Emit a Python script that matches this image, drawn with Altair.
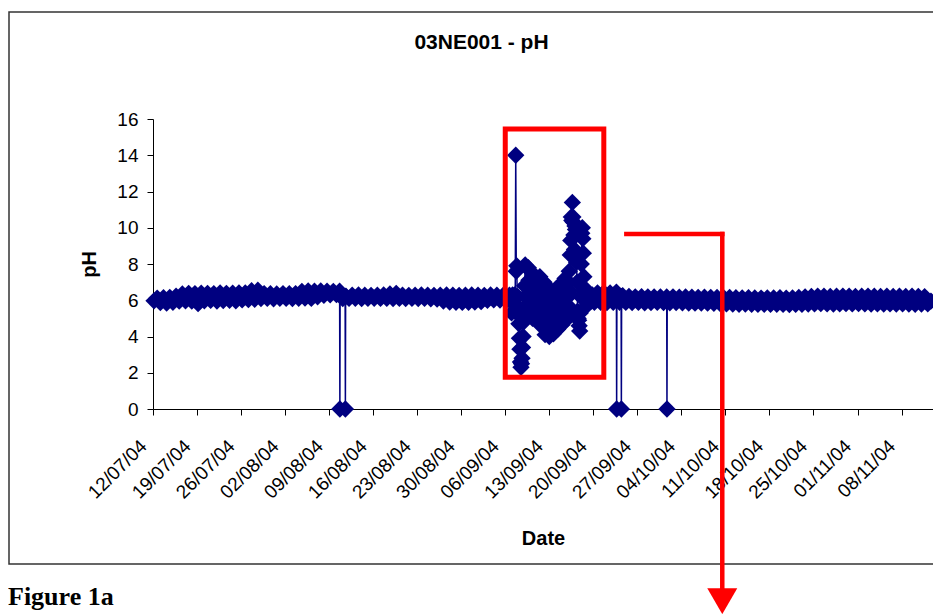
import altair as alt
import pandas as pd

# ------------------------------------------------------------------ data
start_date = "2004-07-12"

# two readings a day (04:00 and 16:00), 12/07/04 .. 06/09/04
pre_low = [5.97, 5.87, 5.85, 5.89, 5.95, 5.97, 5.95,
           5.81, 5.97, 5.99, 5.96, 5.98, 6.00, 5.97,
           6.02, 6.03, 6.05, 6.09, 6.10, 6.08, 6.11,
           6.10, 6.09, 6.11, 6.12, 6.10, 6.19, 6.27,
           6.30, 6.31, 6.09, 6.10, 6.11, 6.09, 6.10,
           6.11, 6.10, 6.10, 6.09, 6.10, 6.09, 6.10,
           6.09, 6.10, 6.08, 6.06, 5.96, 5.90, 5.89,
           5.88, 5.89, 5.90, 5.92, 5.99, 6.02, 6.01,
           6.00]
pre_high = [6.12, 6.14, 6.16, 6.22, 6.35, 6.38, 6.37,
            6.39, 6.38, 6.37, 6.40, 6.38, 6.39, 6.41,
            6.40, 6.53, 6.55, 6.37, 6.36, 6.35, 6.37,
            6.36, 6.37, 6.49, 6.51, 6.50, 6.51, 6.50,
            6.49, 6.50, 6.23, 6.28, 6.29, 6.28, 6.27,
            6.28, 6.29, 6.35, 6.38, 6.28, 6.27, 6.28,
            6.29, 6.28, 6.27, 6.28, 6.29, 6.28, 6.27,
            6.28, 6.29, 6.28, 6.27, 6.29, 6.28, 6.27,
            6.28]

# two readings a day, 20/09/04 .. 12/11/04
post_start = "2004-09-20"
post_low = [5.88, 5.89, 5.87, 5.88, 5.89, 5.88, 5.87,
            5.88, 5.86, 5.87, 5.88, 5.87, 5.86, 5.87,
            5.86, 5.85, 5.84, 5.85, 5.84, 5.83, 5.82,
            5.80, 5.79, 5.78, 5.79, 5.78, 5.77, 5.78,
            5.77, 5.78, 5.77, 5.76, 5.77, 5.78, 5.79,
            5.80, 5.81, 5.80, 5.79, 5.80, 5.81, 5.80,
            5.81, 5.80, 5.79, 5.80, 5.79, 5.80, 5.79,
            5.80, 5.79, 5.78, 5.79, 5.80]
post_high = [6.41, 6.42, 6.40, 6.45, 6.25, 6.21, 6.19,
             6.20, 6.19, 6.18, 6.19, 6.18, 6.19, 6.17,
             6.18, 6.17, 6.16, 6.17, 6.16, 6.15, 6.16,
             6.15, 6.14, 6.13, 6.14, 6.13, 6.12, 6.13,
             6.13, 6.14, 6.12, 6.13, 6.15, 6.19, 6.21,
             6.23, 6.22, 6.21, 6.22, 6.23, 6.22, 6.21,
             6.22, 6.23, 6.22, 6.21, 6.22, 6.21, 6.22,
             6.21, 6.22, 6.21, 6.20, 5.95]

# disturbed period from 07/09/04 00:00: readings on the even 4-hour marks ...
anom_start = "2004-09-07 00:00"
anom_ph_a = [5.30, 6.30, 5.80, 6.30, 14.00, 7.90, 6.20, 4.70, 3.30, 2.30,
             2.80, 4.00, 5.60, 7.95, 5.10, 6.90, 7.80, 5.20, 6.70, 7.55,
             5.00, 6.50, 5.75, 7.30, 4.90, 6.40, 5.60, 7.30, 4.60, 6.20,
             5.40, 7.00, 4.10, 5.90, 4.95, 6.70, 4.00, 5.70, 4.85, 6.45,
             4.15, 5.85, 5.00, 6.65, 4.40, 6.05, 5.20, 6.90, 4.65, 6.25,
             5.45, 7.20, 4.90, 6.55, 5.70, 7.60, 8.50, 10.60, 11.40, 10.30,
             8.80, 9.90, 8.10, 5.40, 4.90, 4.30, 6.20, 9.70, 9.40, 7.30,
             5.60, 6.60, 5.90, 6.40, 5.95, 6.30, 5.95, 6.30]
# ... and the readings taken two hours after each of them
anom_ph_b = [5.90, 6.00, 6.10, 6.20, 7.60, 5.60, 5.20, 3.90, 2.60, 2.50,
             3.40, 4.80, 6.80, 6.20, 6.30, 5.70, 7.10, 6.00, 5.50, 6.80,
             6.10, 5.60, 6.90, 5.30, 6.00, 6.90, 5.20, 6.60, 5.00, 6.60,
             4.60, 5.50, 6.30, 4.50, 5.30, 6.20, 4.40, 5.10, 5.90, 4.50,
             5.30, 6.10, 4.70, 5.50, 6.30, 4.80, 5.60, 6.50, 5.00, 5.80,
             6.60, 5.20, 6.10, 7.00, 6.30, 6.50, 9.30, 10.40, 10.60, 9.60,
             10.10, 8.40, 7.00, 5.00, 4.60, 5.30, 8.00, 10.00, 8.60, 6.50,
             6.00, 6.20, 6.10, 6.15, 6.10, 6.15, 6.10, 6.10]

# isolated readings around the sensor drop-outs
event_times = ["2004-08-10 17:00", "2004-08-10 18:00",
               "2004-08-11 13:00", "2004-08-11 14:00", "2004-08-11 15:00",
               "2004-09-23 17:00", "2004-09-23 18:00",
               "2004-09-24 10:00", "2004-09-24 11:00", "2004-09-24 12:00",
               "2004-10-01 17:00", "2004-10-01 18:00"]
event_ph = [0.0, 6.40,
            6.20, 0.0, 6.20,
            0.0, 6.35,
            6.20, 0.0, 6.20,
            0.0, 6.10]

tick_labels = ["12/07/04", "19/07/04", "26/07/04", "02/08/04", "09/08/04",
               "16/08/04", "23/08/04", "30/08/04", "06/09/04", "13/09/04",
               "20/09/04", "27/09/04", "04/10/04", "11/10/04", "18/10/04",
               "25/10/04", "01/11/04", "08/11/04"]
y_ticks = [0, 2, 4, 6, 8, 10, 12, 14, 16]

# ------------------------------------------------------------------ table
rows = []
def add_daily(first, lows, highs):
    base = pd.Timestamp(first)
    for i, (lo, hi) in enumerate(zip(lows, highs)):
        day = base + pd.Timedelta(days=i)
        rows.append((day + pd.Timedelta(hours=4), lo))
        rows.append((day + pd.Timedelta(hours=16), hi))

add_daily(start_date, pre_low, pre_high)
add_daily(post_start, post_low, post_high)
a0 = pd.Timestamp(anom_start)
for i, (va, vb) in enumerate(zip(anom_ph_a, anom_ph_b)):
    rows.append((a0 + pd.Timedelta(hours=4 * i), va))
    rows.append((a0 + pd.Timedelta(hours=4 * i + 2), vb))
for t, v in zip(event_times, event_ph):
    rows.append((pd.Timestamp(t), v))

df = pd.DataFrame(rows, columns=["t", "ph"]).sort_values("t").reset_index(drop=True)

def to_dt(label):
    d, m, y = label.split("/")
    return alt.DateTime(year=2000 + int(y), month=int(m), date=int(d))

tick_dates = [to_dt(s) for s in tick_labels]

# annotation shapes (in data coordinates)
box_df = pd.DataFrame({"t": [pd.Timestamp("2004-09-06 00:00")],
                       "t2": [pd.Timestamp("2004-09-21 16:00")],
                       "ph": [15.45], "ph2": [1.75]})
hline_df = pd.DataFrame({"t": [pd.Timestamp("2004-09-25 06:00")],
                         "t2": [pd.Timestamp("2004-10-10 12:00")],
                         "ph": [9.66]})
vline_df = pd.DataFrame({"t": [pd.Timestamp("2004-10-10 12:00")],
                         "ph": [9.66], "ph2": [-9.9]})
head_df = pd.DataFrame({"t": [pd.Timestamp("2004-10-10 12:00")], "ph": [-10.6]})
one = pd.DataFrame({"k": [0]})

NAVY = "#000080"
RED = "#ff0000"
FONT = "Liberation Sans"

x_scale = alt.Scale(domain=[alt.DateTime(year=2004, month=7, date=12),
                            alt.DateTime(year=2004, month=11, date=13)], nice=False)
x_axis = alt.Axis(values=tick_dates, format="%d/%m/%y", labelAngle=315,
                  labelAlign="right", labelBaseline="alphabetic",
                  labelPadding=32, labelOffset=-5.5, labelOverlap=False,
                  labelFlush=False, tickSize=6, grid=False,
                  title="Date", titleX=390, titleY=135,
                  titleBaseline="alphabetic", titleAlign="center")
y_scale = alt.Scale(domain=[0, 16], nice=False, zero=False)
y_axis = alt.Axis(values=y_ticks, tickCount=9, tickSize=6, labelPadding=9, grid=False,
                  labelOverlap=False, title="pH", titleAngle=270,
                  titleX=-54, titleY=145, titleBaseline="bottom",
                  titleAlign="center")

X = alt.X("t:T", scale=x_scale, axis=x_axis)
Y = alt.Y("ph:Q", scale=y_scale, axis=y_axis)

frame = alt.Chart(one).mark_rect(fillOpacity=0, stroke="#333333", strokeWidth=1.5).encode(
    x=alt.value(-144), x2=alt.value(800), y=alt.value(-107), y2=alt.value(445))

line = alt.Chart(df).mark_line(color=NAVY, strokeWidth=1.5).encode(x=X, y=Y)
pts = alt.Chart(df).mark_point(shape="diamond", filled=True, size=300,
                               color=NAVY, opacity=1).encode(x=X, y=Y)

box = alt.Chart(box_df).mark_rect(fillOpacity=0, stroke=RED, strokeWidth=5).encode(
    x=X, x2="t2:T", y=Y, y2="ph2:Q")
hline = alt.Chart(hline_df).mark_rule(color=RED, strokeWidth=4.5, strokeCap="square").encode(
    x=X, x2="t2:T", y=Y)
vline = alt.Chart(vline_df).mark_rule(color=RED, strokeWidth=4.5, strokeCap="square").encode(
    x=X, y=Y, y2="ph2:Q")
head = alt.Chart(head_df).mark_point(shape="triangle-down", filled=True, size=900,
                                     color=RED, opacity=1).encode(x=X, y=Y)

title = alt.Chart(one).mark_text(text="03NE001 - pH", font=FONT, fontSize=21,
                                 fontWeight="bold", align="center",
                                 baseline="alphabetic", color="black").encode(
    x=alt.value(328.5), y=alt.value(-70))
caption = alt.Chart(one).mark_text(text="Figure 1a", font="Liberation Serif",
                                   fontSize=26, fontWeight="bold", align="left",
                                   baseline="alphabetic", color="black").encode(
    x=alt.value(-145), y=alt.value(486))

chart = alt.layer(line, pts, frame, box, hline, vline, head, title, caption).properties(
    width=780, height=290,
    autosize=alt.AutoSizeParams(type="none"),
    padding={"left": 145, "top": 111, "right": 0, "bottom": 205},
    background="white",
).configure_view(stroke=None).configure_axis(
    domainColor="black", tickColor="black", labelColor="black", titleColor="black",
    labelFont=FONT, labelFontSize=19, titleFont=FONT, titleFontSize=20,
    titleFontWeight="bold", domainWidth=1, tickWidth=1,
)

chart.save("out.html", embed_options={"renderer": "svg", "actions": False})
